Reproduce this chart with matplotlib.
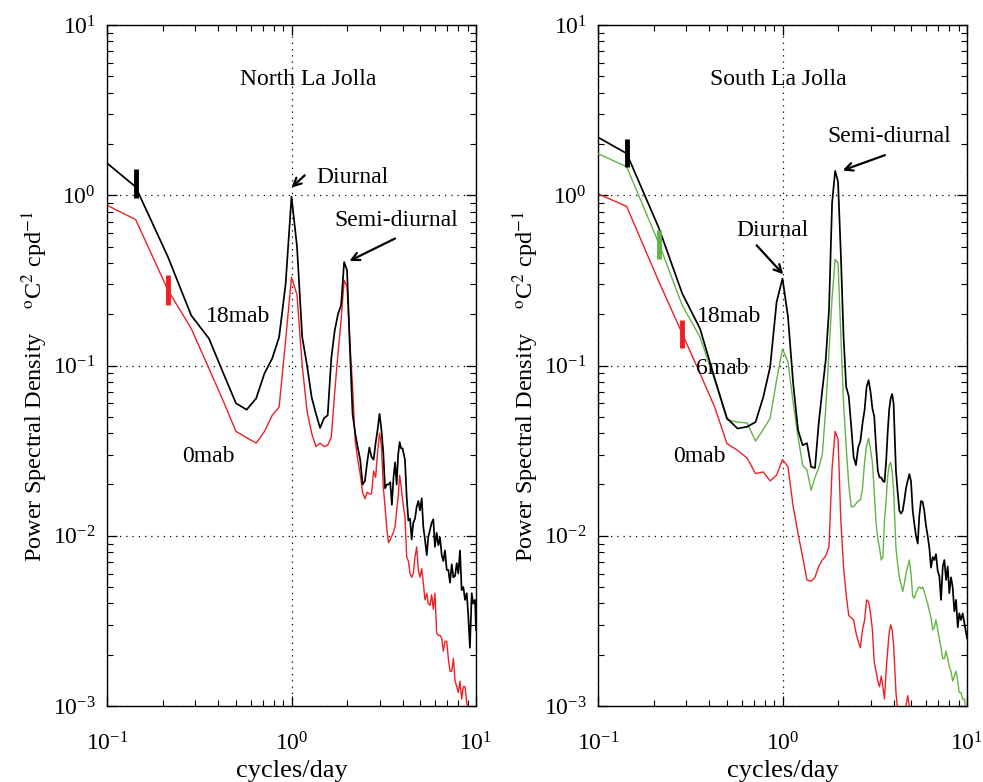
import numpy as np
import matplotlib
matplotlib.use("Agg")
import matplotlib.pyplot as plt

plt.rcParams['font.family'] = ['Liberation Serif', 'DejaVu Serif']
plt.rcParams['mathtext.fontset'] = 'stix'

# ---------------- data ----------------
freq_lo = [0.071, 0.143, 0.214, 0.286, 0.357, 0.429, 0.5, 0.571, 0.643, 0.714, 0.786, 0.857, 0.929, 1.0,
           1.071, 1.143, 1.214, 1.286, 1.357, 1.429, 1.5, 1.571, 1.643, 1.714, 1.786, 1.857, 1.929, 2.0,
           2.071, 2.143, 2.214, 2.286, 2.357, 2.429, 2.5, 2.571, 2.643, 2.714, 2.786, 2.857, 2.929, 3.0,
           3.071, 3.143, 3.214, 3.286, 3.357, 3.429, 3.5, 3.571, 3.643, 3.714, 3.786, 3.857, 3.929, 4.0]
freq_hi = [4.12, 4.21, 4.30, 4.39, 4.48, 4.57, 4.67, 4.77, 4.87, 4.97, 5.08, 5.18, 5.29, 5.41, 5.51,
           5.63, 5.75, 5.87, 5.99, 6.12, 6.25, 6.38, 6.52, 6.65, 6.79, 6.94, 7.08, 7.23, 7.39, 7.54,
           7.70, 7.86, 8.02, 8.19, 8.36, 8.54, 8.72, 8.91, 9.08, 9.27, 9.48, 9.66, 9.88, 10.0]

north_18mab = [2.1, 1.12, 0.434, 0.197, 0.144, 0.089, 0.060, 0.055, 0.064, 0.090, 0.11, 0.147, 0.30, 0.98,
               0.50, 0.147, 0.10, 0.065, 0.052, 0.043, 0.049, 0.051, 0.11, 0.16, 0.20, 0.226, 0.405, 0.363,
               0.128, 0.052, 0.040, 0.033, 0.028, 0.020, 0.021, 0.027, 0.033, 0.029, 0.028, 0.035, 0.042, 0.052,
               0.042, 0.031, 0.019, 0.020, 0.020, 0.0206, 0.0152, 0.022, 0.027, 0.020, 0.030, 0.0355, 0.0326, 0.0326,
               0.028, 0.0169, 0.0123, 0.0126, 0.0095, 0.0119, 0.0126, 0.0148, 0.016, 0.0141, 0.0166, 0.0113,
               0.0095, 0.0077, 0.0098, 0.0108, 0.0119, 0.0125, 0.0086, 0.0104, 0.0088, 0.0098, 0.0077, 0.0071,
               0.0082, 0.0063, 0.0063, 0.0053, 0.0068, 0.0057, 0.0058, 0.0069, 0.006, 0.0082, 0.0048, 0.005,
               0.0042, 0.0046, 0.0034, 0.0022, 0.0046, 0.004, 0.0042, 0.0028]
north_0mab = [1.05, 0.72, 0.277, 0.165, 0.096, 0.061, 0.041, 0.0377, 0.035, 0.041, 0.051, 0.057, 0.14, 0.33,
              0.26, 0.10, 0.054, 0.040, 0.0334, 0.035, 0.0334, 0.034, 0.038, 0.069, 0.118, 0.184, 0.317, 0.29,
              0.14, 0.075, 0.036, 0.028, 0.023, 0.018, 0.0165, 0.018, 0.0176, 0.0176, 0.024, 0.022, 0.031, 0.040,
              0.034, 0.0194, 0.0148, 0.011, 0.0091, 0.0095, 0.010, 0.0105, 0.0113, 0.014, 0.0169, 0.0227, 0.0194, 0.0162,
              0.0129, 0.0075, 0.0071, 0.006, 0.0057, 0.006, 0.0075, 0.0086, 0.0063, 0.0057, 0.0064, 0.0053,
              0.0042, 0.0046, 0.004, 0.0039, 0.0045, 0.0037, 0.0046, 0.0027, 0.0026, 0.0026, 0.0025, 0.0021,
              0.0024, 0.0024, 0.0019, 0.0016, 0.0016, 0.0019, 0.0014, 0.0013, 0.0012, 0.0014, 0.0011, 0.0013,
              0.0013, 0.00104, 0.00098, 0.00085, 0.0009, 0.0008, 0.0007, 0.0007]

south_18mab = [2.7, 1.76, 0.64, 0.265, 0.165, 0.084, 0.049, 0.0426, 0.0437, 0.0465, 0.065, 0.098, 0.236, 0.324,
               0.193, 0.078, 0.0417, 0.034, 0.035, 0.0254, 0.025, 0.0457, 0.0716, 0.107, 0.21, 0.9, 1.39, 1.2,
               0.45, 0.147, 0.075, 0.066, 0.044, 0.029, 0.026, 0.033, 0.036, 0.0457, 0.055, 0.075, 0.082, 0.07,
               0.056, 0.05, 0.0334, 0.024, 0.022, 0.022, 0.021, 0.0207, 0.027, 0.040, 0.055, 0.064, 0.068, 0.06,
               0.024, 0.018, 0.014, 0.0135, 0.014, 0.016, 0.019, 0.021, 0.023, 0.021, 0.014, 0.0118,
               0.010, 0.009, 0.013, 0.016, 0.0158, 0.014, 0.0115, 0.010, 0.0085, 0.0065, 0.0075, 0.0072,
               0.0078, 0.0062, 0.0058, 0.0042, 0.0066, 0.0072, 0.0055, 0.0066, 0.0046, 0.0057, 0.005, 0.0036,
               0.0042, 0.0029, 0.0035, 0.0032, 0.0035, 0.0031, 0.0027, 0.0025]
south_6mab = [2.08, 1.47, 0.52, 0.226, 0.147, 0.082, 0.048, 0.0465, 0.046, 0.036, 0.042, 0.049, 0.082, 0.125,
              0.105, 0.06, 0.038, 0.026, 0.0243, 0.0185, 0.022, 0.025, 0.03, 0.055, 0.12, 0.25, 0.42, 0.40,
              0.15, 0.06, 0.033, 0.02, 0.0148, 0.0148, 0.0154, 0.016, 0.0162, 0.019, 0.027, 0.034, 0.0373, 0.032,
              0.027, 0.018, 0.012, 0.0095, 0.0085, 0.0072, 0.0075, 0.0123, 0.016, 0.0222, 0.026, 0.027, 0.024, 0.0185,
              0.0085, 0.0068, 0.0057, 0.0052, 0.0047, 0.0052, 0.006, 0.0066, 0.0072, 0.006, 0.0044, 0.0043,
              0.0046, 0.0049, 0.005, 0.0049, 0.005, 0.0047, 0.0043, 0.004, 0.0036, 0.0033, 0.0028, 0.0029,
              0.0032, 0.0028, 0.0025, 0.0022, 0.0019, 0.0019, 0.0021, 0.0019, 0.0017, 0.0016, 0.0014, 0.0015,
              0.0016, 0.0014, 0.0012, 0.0012, 0.0011, 0.0011, 0.00095, 0.001]
south_0mab = [1.2, 0.86, 0.31, 0.154, 0.09, 0.057, 0.0348, 0.0317, 0.0286, 0.0232, 0.0237, 0.021, 0.0227, 0.028,
              0.0254, 0.0148, 0.0103, 0.0075, 0.0055, 0.0054, 0.0057, 0.0066, 0.0072, 0.0076, 0.0086, 0.025, 0.041, 0.037,
              0.0123, 0.0065, 0.0045, 0.0034, 0.0033, 0.0032, 0.0027, 0.0024, 0.0022, 0.0028, 0.0032, 0.0042, 0.0041, 0.0035,
              0.0028, 0.0018, 0.0016, 0.0014, 0.0013, 0.0015, 0.0013, 0.0011, 0.0016, 0.0021, 0.0027, 0.003, 0.0028, 0.0023,
              0.0012, 0.00095, 0.0009, 0.0008, 0.00078, 0.0009, 0.001, 0.00115, 0.001, 0.0008, 0.0007, 0.00068,
              0.00065, 0.00062, 0.0006, 0.00058, 0.00056, 0.00055, 0.00052, 0.0005, 0.00048, 0.00046, 0.00044, 0.00043,
              0.00042, 0.0004, 0.00038, 0.00037, 0.00036, 0.00035, 0.00034, 0.00033, 0.00032, 0.00031, 0.0003, 0.00029,
              0.00028, 0.00027, 0.00026, 0.00025, 0.00025, 0.00024, 0.00023, 0.00023]

# confidence bars: (freq, low, high, colour key)
north_bars = [(0.143, 0.964, 1.42, 'k'), (0.214, 0.228, 0.339, 'red')]
south_bars = [(0.143, 1.47, 2.15, 'k'), (0.214, 0.425, 0.629, 'green'), (0.286, 0.126, 0.186, 'red')]

RED = '#ee2024'
GREEN = '#62b445'
colors = {'k': 'black', 'red': RED, 'green': GREEN}

freq = np.array(freq_lo + freq_hi)

fig = plt.figure(figsize=(9.83, 7.82), dpi=100)
W, H = 983, 782
axL = fig.add_axes([107 / W, 1 - 706 / H, 369 / W, 681 / H])
axR = fig.add_axes([598 / W, 1 - 706 / H, 369 / W, 681 / H])

def style(ax):
    ax.set_xscale('log')
    ax.set_yscale('log')
    ax.set_xlim(0.1, 10)
    ax.set_ylim(1e-3, 10)
    ax.grid(True, which='major', linestyle=(0, (1, 4)), color='black', linewidth=0.9)
    ax.tick_params(which='both', direction='in', top=True, right=True, labelsize=17)
    ax.tick_params(which='major', length=7, width=0.9)
    ax.tick_params(which='minor', length=4, width=0.8)
    ax.tick_params(axis='x', which='major', pad=19)
    ax.tick_params(axis='y', which='major', pad=8)
    for s in ax.spines.values():
        s.set_linewidth(1.0)
    ax.set_xlabel('cycles/day', fontsize=19, labelpad=3)
    ax.set_ylabel(r'Power Spectral Density    $^{\rm o}$C$^2$ cpd$^{-1}$', fontsize=17.5)
    ax.yaxis.set_label_coords(-0.155, 0.47)

for ax in (axL, axR):
    style(ax)

axL.plot(freq, north_18mab, color='black', lw=1.25, zorder=3)
axL.plot(freq, north_0mab, color=RED, lw=1.0, zorder=2)
axR.plot(freq, south_18mab, color='black', lw=1.25, zorder=4)
axR.plot(freq, south_6mab, color=GREEN, lw=1.0, zorder=3)
axR.plot(freq, south_0mab, color=RED, lw=1.0, zorder=2)

for ax, bars in ((axL, north_bars), (axR, south_bars)):
    for f, lo, hi, c in bars:
        ax.plot([f, f], [lo, hi], color=colors[c], lw=3.5, solid_capstyle='butt', zorder=5)

fs = 17
arrow = dict(arrowstyle='->', lw=1.6, color='black', shrinkA=0, shrinkB=0, mutation_scale=14)

# North panel text
axL.text(1.23, 4.8, 'North La Jolla', fontsize=fs, ha='center', va='center')
axL.text(1.36, 1.275, 'Diurnal', fontsize=fs, ha='left', va='center')
axL.annotate('', xy=(1.0, 1.11), xytext=(1.18, 1.31), arrowprops=arrow)
axL.text(3.68, 0.706, 'Semi-diurnal', fontsize=fs, ha='center', va='center')
axL.annotate('', xy=(2.06, 0.411), xytext=(3.64, 0.557), arrowprops=arrow)
axL.text(0.344, 0.195, '18mab', fontsize=fs, ha='left', va='center')
axL.text(0.254, 0.0293, '0mab', fontsize=fs, ha='left', va='center')

# South panel text
axR.text(0.945, 4.8, 'South La Jolla', fontsize=fs, ha='center', va='center')
axR.text(3.78, 2.2, 'Semi-diurnal', fontsize=fs, ha='center', va='center')
axR.annotate('', xy=(2.12, 1.40), xytext=(3.59, 1.72), arrowprops=arrow)
axR.text(0.888, 0.623, 'Diurnal', fontsize=fs, ha='center', va='center')
axR.annotate('', xy=(1.01, 0.343), xytext=(0.724, 0.508), arrowprops=arrow)
axR.text(0.343, 0.193, '18mab', fontsize=fs, ha='left', va='center')
axR.text(0.34, 0.096, '6mab', fontsize=fs, ha='left', va='center')
axR.text(0.254, 0.0293, '0mab', fontsize=fs, ha='left', va='center')

fig.savefig('out.png', dpi=100)
